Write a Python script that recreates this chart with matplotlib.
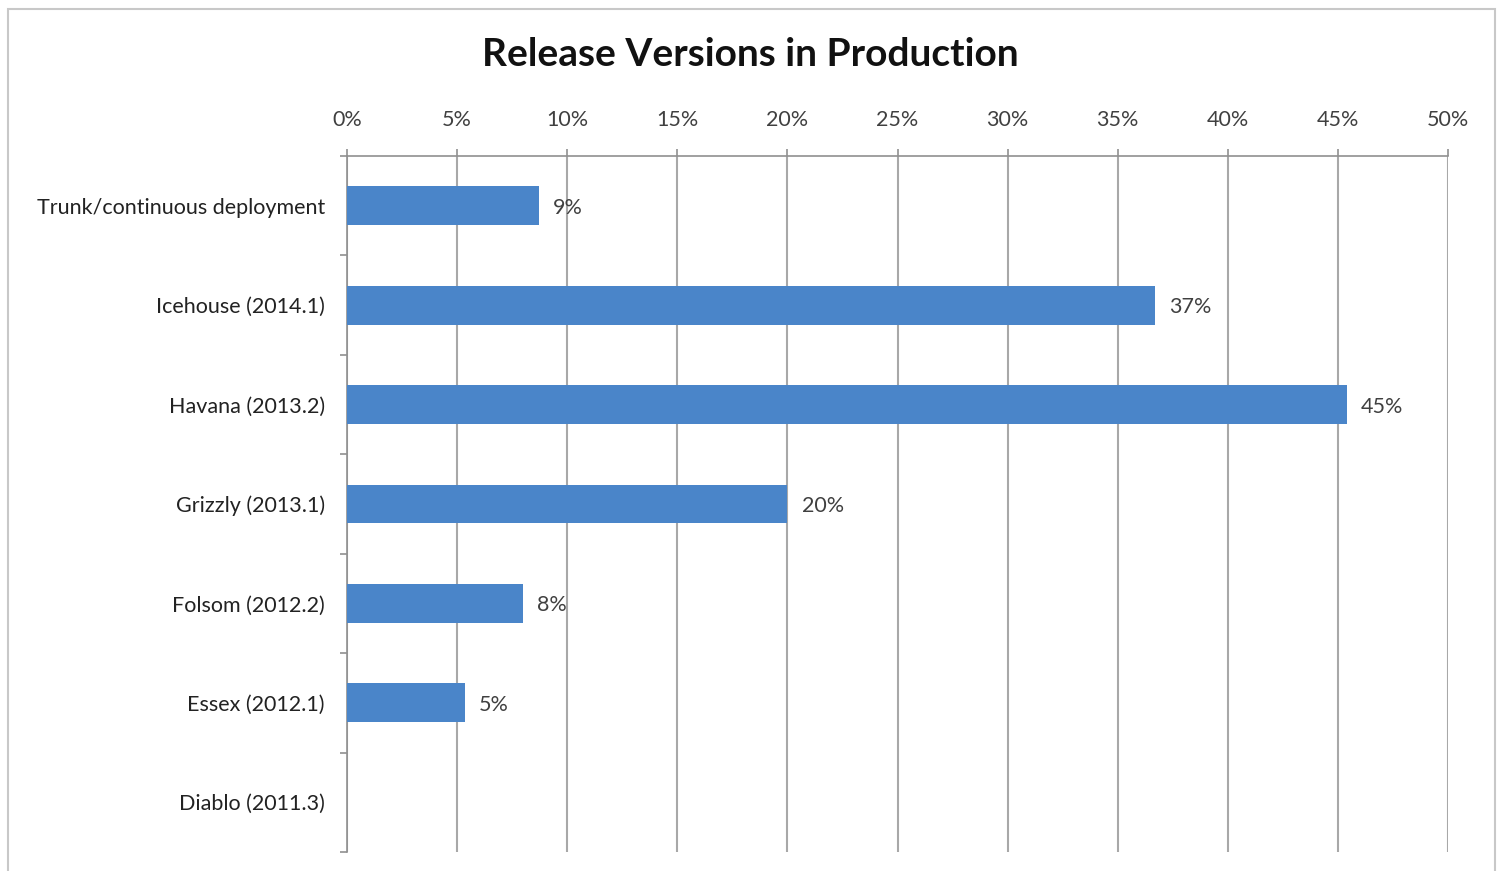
import matplotlib
matplotlib.use("Agg")
import matplotlib.pyplot as plt
import numpy as np
from matplotlib.patches import Rectangle

categories = ["Trunk/continuous deployment", "Icehouse (2014.1)", "Havana (2013.2)",
              "Grizzly (2013.1)", "Folsom (2012.2)", "Essex (2012.1)", "Diablo (2011.3)"]
values = [8.7, 36.7, 45.4, 20.0, 8.0, 5.35, 0.0]
xticks = [0, 5, 10, 15, 20, 25, 30, 35, 40, 45, 50]
title = "Release Versions in Production"

plt.rcParams['font.family'] = ['Lato', 'DejaVu Sans']

fig = plt.figure(figsize=(15.01, 8.71), dpi=100)
ax = fig.add_axes([347/1501, 1-852/871, (1448-347)/1501, (852-156)/871])

y = np.arange(len(categories))
ax.barh(y, values, height=0.39, color='#4a85c9', zorder=3)
for yi, v in zip(y, values):
    if v > 0:
        ax.text(v + 0.65, yi + 0.02, f"{round(v):.0f}%", va='center', ha='left',
                fontsize=15.5, color='#404040', zorder=4)

ax.set_ylim(len(categories) - 0.5, -0.5)
ax.set_xlim(0, 50)
ax.set_yticks(y)
ax.set_yticklabels(categories, fontsize=15.5, color='#222222')
ax.set_yticks(np.arange(-0.5, len(categories), 1), minor=True)
ax.tick_params(axis='y', which='major', length=0, pad=16)
ax.tick_params(axis='y', which='minor', length=5, direction='out', color='#909090', width=1.2)

ax.xaxis.tick_top()
ax.set_xticks(xticks)
ax.set_xticklabels([f"{t}%" for t in xticks], fontsize=15.5, color='#404040')
ax.tick_params(axis='x', length=5, direction='out', color='#909090', width=1.2, pad=13.5)
ax.grid(axis='x', color='#a8a8a8', linewidth=1.5, zorder=0)

for s in ['right', 'bottom']:
    ax.spines[s].set_visible(False)
for s in ['top', 'left']:
    ax.spines[s].set_color('#909090')
    ax.spines[s].set_linewidth(1.2)

fig.text(0.5, 1-55/871, title, ha='center', va='center', fontsize=28,
         fontweight='bold', color='#111111')

fig.patches.append(Rectangle((8/1501, -0.05), (1495-8)/1501, 1.05 - 9/871,
                             transform=fig.transFigure, fill=False,
                             edgecolor='#c8c8c8', linewidth=1.5))

fig.savefig("out.png", dpi=100)
